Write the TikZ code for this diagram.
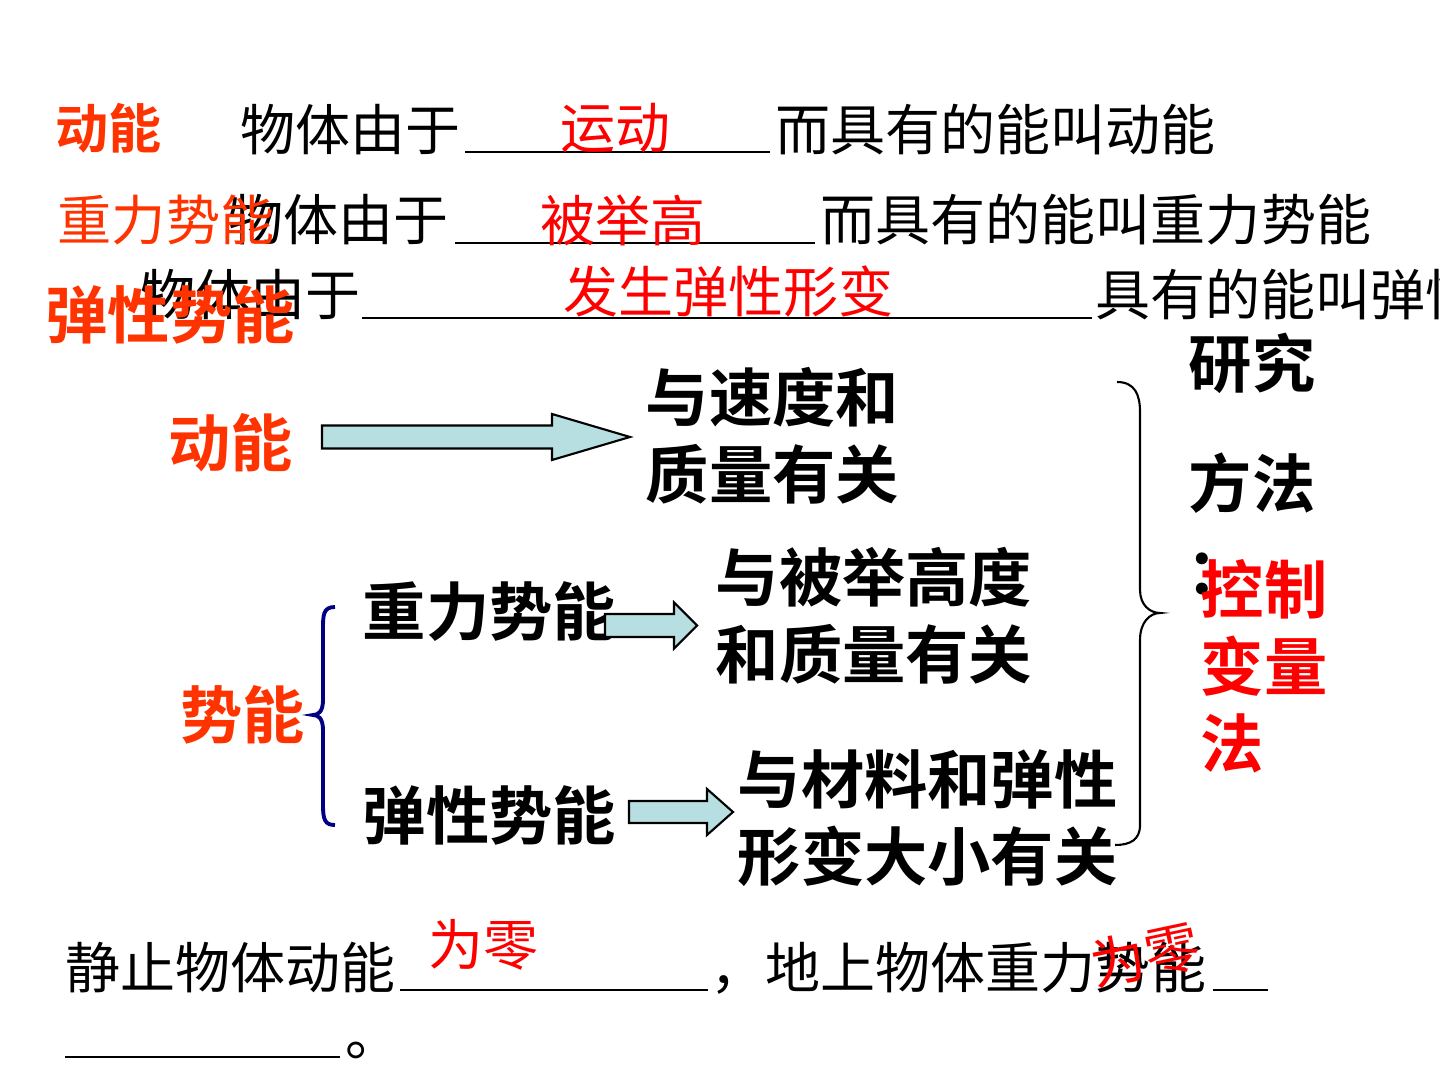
\documentclass[tikz,border=0pt]{standalone}
\usepackage{fontspec}
\usetikzlibrary{calc}
\newfontfamily\cjk{Noto Sans CJK SC}[BoldFont={Noto Sans CJK SC Bold}]
\definecolor{titleor}{HTML}{FF3300}
\definecolor{ansred}{HTML}{FF0000}
\definecolor{bracenavy}{HTML}{000080}
\definecolor{arrblue}{HTML}{B7DEE0}
\newcommand{\blockarr}[5]{%
  \filldraw[arrbox] ($(#1)+(0,-#3)$) -- ($(#2)+(-#5,-#3)$) -- ($(#2)+(-#5,-#4)$) -- (#2)
    -- ($(#2)+(-#5,#4)$) -- ($(#2)+(-#5,#3)$) -- ($(#1)+(0,#3)$) -- cycle;}

\begin{document}
\begin{tikzpicture}[x=0.01cm,y=-0.01cm,
  txt/.style={inner sep=0,anchor=west,font=\cjk\fontsize{15.65}{18}\selectfont},
  ans/.style={txt,text=ansred},
  tagreg/.style={txt,text=titleor,font=\cjk\fontsize{15.4}{18}\selectfont},
  tag/.style={inner sep=0,anchor=west,text=titleor,font=\cjk\bfseries\fontsize{17.7}{21}\selectfont},
  big/.style={inner sep=0,anchor=west,align=left,font=\cjk\bfseries\fontsize{18}{21.9}\selectfont},
  blank/.style={line width=0.6pt},
  arrbox/.style={fill=arrblue,draw=black,line width=0.6pt}]
\useasboundingbox (0,0) rectangle (1440,1080);
\clip (0,0) rectangle (1440,1080);

\node[txt] (d1a) at (240,130) {物体由于};
\draw[blank] (465,152) -- (770,152);
\node[ans] (d1ans) at (560,128) {运动};
\node[txt] (d1b) at (775,130) {而具有的能叫动能};
\node[tag,font=\cjk\bfseries\fontsize{15.1}{18}\selectfont] (d1tag) at (55,128) {动能};

\node[txt] (d2a) at (228,220) {物体由于};
\draw[blank] (455,243) -- (815,243);
\node[ans] (d2ans) at (540,220) {被举高};
\node[txt] (d2b) at (820,220) {而具有的能叫重力势能};
\node[tagreg] (d2tag) at (57,220) {重力势能};

\node[txt] (d3a) at (140,295) {物体由于};
\draw[blank] (362,318) -- (1092,318);
\node[ans] (d3ans) at (563,292) {发生弹性形变};
\node[txt] (d3b) at (1095,295) {具有的能叫弹性势能};
\node[tag] (d3tag) at (45,315) {弹性势能};

\node[tag] (kin) at (168,443) {动能};
\node[big] (kinres) at (645,436) {与速度和\\质量有关};
\coordinate (kinout) at (322,437);
\coordinate (kinin) at (630,437);
\blockarr{kinout}{kinin}{11.5}{23}{78}

\node[tag] (pot) at (180,715) {势能};
\draw[bracenavy,line width=1.1pt] (335,607) .. controls (323,607) and (323,615) .. (323,630)
  -- (323,700) .. controls (323,712) and (318,715) .. (313,715)
  .. controls (318,715) and (323,718) .. (323,730) -- (323,805)
  .. controls (323,820) and (325,825) .. (335,825);

\node[big] (grav) at (362,612) {重力势能};
\node[big] (grres) at (715,616) {与被举高度\\和质量有关};
\coordinate (gravout) at (605,625.5);
\coordinate (gravin) at (697,625.5);
\blockarr{gravout}{gravin}{11.5}{23}{23}

\node[big] (elas) at (362,815) {弹性势能};
\node[big] (elres) at (737,818) {与材料和弹性\\形变大小有关};
\coordinate (elasout) at (629,812);
\coordinate (elasin) at (733,812);
\blockarr{elasout}{elasin}{11}{23}{26}

\draw[line width=0.6pt] (1117,382) .. controls (1135,382) and (1140,395) .. (1140,412)
  -- (1140,590) .. controls (1140,605) and (1150,613) .. (1160,613)
  .. controls (1150,613) and (1140,622) .. (1140,640) -- (1140,825)
  .. controls (1140,840) and (1130,845) .. (1115,845);

\node[big] (meth1) at (1188,363) {研究};
\node[big] (meth2) at (1188,483) {方法};
\node[big] (meth3) at (1186,574) {：};
\node[big,text=ansred] (ctrl) at (1200,666) {控制\\变量\\法};

\node[txt] (z1a) at (65,968) {静止物体动能};
\draw[blank] (400,990) -- (708,990);
\node[txt] (z1b) at (710,968) {，地上物体重力势能};
\draw[blank] (1213,990) -- (1268,990);
\draw[blank] (65,1057) -- (340,1057);
\node[txt] (z1c) at (345,1050) {。};
\node[ans] (z1ans) at (428,945) {为零};
\node[ans,anchor=center,rotate=12] (z2ans) at (1145,955) {为零};
\end{tikzpicture}
\end{document}
